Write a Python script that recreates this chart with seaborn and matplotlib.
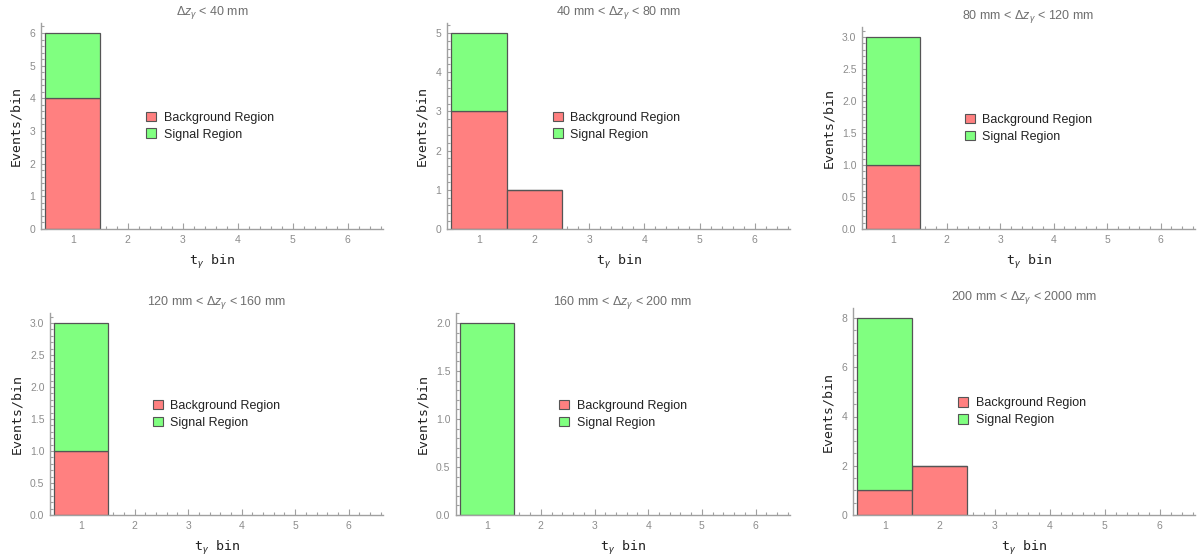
import numpy as np
import pandas as pd
import matplotlib
matplotlib.use("Agg")
import matplotlib.pyplot as plt
from matplotlib.patches import Patch
from matplotlib.ticker import MultipleLocator
import seaborn as sns

# ---- data -------------------------------------------------------------
bins = [1, 2, 3, 4, 5, 6]

titles = [
    r"$\Delta z_{\gamma}$ < 40 mm",
    r"40 mm < $\Delta z_{\gamma}$ < 80 mm",
    r"80 mm < $\Delta z_{\gamma}$ < 120 mm",
    r"120 mm < $\Delta z_{\gamma}$ < 160 mm",
    r"160 mm < $\Delta z_{\gamma}$ < 200 mm",
    r"200 mm < $\Delta z_{\gamma}$ < 2000 mm",
]

background = [
    [4, 0, 0, 0, 0, 0],
    [3, 1, 0, 0, 0, 0],
    [1, 0, 0, 0, 0, 0],
    [1, 0, 0, 0, 0, 0],
    [0, 0, 0, 0, 0, 0],
    [1, 2, 0, 0, 0, 0],
]
signal = [
    [2, 0, 0, 0, 0, 0],
    [2, 0, 0, 0, 0, 0],
    [2, 0, 0, 0, 0, 0],
    [2, 0, 0, 0, 0, 0],
    [2, 0, 0, 0, 0, 0],
    [7, 0, 0, 0, 0, 0],
]

regions = ["Background Region", "Signal Region"]
colors = {"Background Region": "#ff8080", "Signal Region": "#80ff80"}

# ---- layout (pixels on a 1198 x 557 canvas) ---------------------------
W, H = 1198, 557
# left, right, y of zero, y of the tallest stack, major step, minor step
frames = [
    (41, 383, 229, 33, 1.0, 0.2),
    (447, 790, 229, 33, 1.0, 0.2),
    (862, 1195, 229, 37, 0.5, 0.1),
    (50, 383, 515, 323, 0.5, 0.1),
    (456, 790, 515, 323, 0.5, 0.1),
    (853, 1195, 515, 318, 2.0, 0.5),
]
XMIN, XMAX = 0.42, 6.64
PAD = 1.05

sns.set_theme(style="white")
plt.rcParams["font.family"] = ["Liberation Sans", "DejaVu Sans"]
plt.rcParams["mathtext.fontset"] = "custom"
plt.rcParams["mathtext.rm"] = "Liberation Sans"
plt.rcParams["mathtext.it"] = "Liberation Sans:italic"

AXIS_GREY = "#a0a0a0"
TICK_TEXT = "#8c8c8c"
EDGE = "#555555"

fig = plt.figure(figsize=(W / 100, H / 100), dpi=100)
fig.patch.set_facecolor("white")

for i in range(6):
    left, right, y0, ytop, major, minor = frames[i]
    totals = [b + s for b, s in zip(background[i], signal[i])]
    ymax = max(totals)
    px_per_unit = (y0 - ytop) / ymax
    top_px = y0 - ymax * PAD * px_per_unit
    ax = fig.add_axes([left / W, 1 - y0 / H, (right - left) / W, (y0 - top_px) / H])

    df = pd.DataFrame({
        "bin": bins * 2,
        "events": background[i] + signal[i],
        "region": [regions[0]] * len(bins) + [regions[1]] * len(bins),
    })
    sns.histplot(
        data=df, x="bin", weights="events", hue="region",
        hue_order=regions[::-1], multiple="stack", discrete=True,
        palette=colors, edgecolor=EDGE, linewidth=0.9, alpha=1.0,
        legend=False, ax=ax,
    )
    # hide empty bins entirely (no stack sits on them)
    for p in ax.patches:
        centre = p.get_x() + p.get_width() / 2
        k = int(round(centre)) - 1
        if 0 <= k < len(totals) and totals[k] == 0:
            p.set_visible(False)

    ax.set_xlim(XMIN, XMAX)
    ax.set_ylim(0, ymax * PAD)
    ax.xaxis.set_major_locator(MultipleLocator(1))
    ax.xaxis.set_minor_locator(MultipleLocator(0.2))
    ax.yaxis.set_major_locator(MultipleLocator(major))
    ax.yaxis.set_minor_locator(MultipleLocator(minor))

    for side in ("top", "right"):
        ax.spines[side].set_visible(False)
    for side in ("left", "bottom"):
        ax.spines[side].set_color(AXIS_GREY)
        ax.spines[side].set_linewidth(1.0)
    ax.tick_params(which="both", direction="in", color=AXIS_GREY,
                   labelcolor=TICK_TEXT, labelsize=7.5, width=0.8,
                   bottom=True, left=True)
    ax.tick_params(which="major", length=4, pad=4)
    ax.tick_params(which="minor", length=2)
    ax.set_facecolor("white")

    ax.set_xlabel(r"t$_{\gamma}$ bin", family="DejaVu Sans Mono",
                  fontsize=9.5, color="#222222", labelpad=6)
    ax.set_ylabel("Events/bin", family="DejaVu Sans Mono",
                  fontsize=9.5, color="#222222", labelpad=5)

    fig.text((left + right) / 2 / W, 1 - (top_px - 11) / H, titles[i],
             ha="center", va="center", fontsize=9, color="#6e6e6e")

    handles = [Patch(facecolor=colors[r], edgecolor=EDGE, linewidth=0.8)
               for r in regions]
    ax.legend(handles, regions, loc="center left", bbox_to_anchor=(0.29, 0.5),
              frameon=False, fontsize=9, handlelength=0.8, handleheight=0.8,
              handletextpad=0.6, labelspacing=0.38, borderpad=0,
              labelcolor="#222222")

fig.savefig("out.png", dpi=100, facecolor="white")
